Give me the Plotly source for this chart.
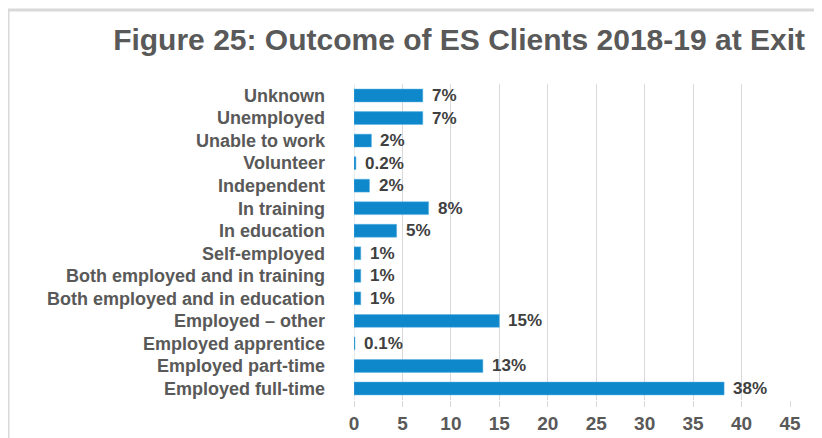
import plotly.graph_objects as go

# categories listed bottom to top (plotly draws the first category at the bottom)
outcomes = ["Employed full-time", "Employed part-time", "Employed apprentice",
            "Employed \u2013 other", "Both employed and in education",
            "Both employed and in training", "Self-employed", "In education",
            "In training", "Independent", "Volunteer", "Unable to work",
            "Unemployed", "Unknown"]
percent = [38.2, 13.3, 0.1, 15.0, 0.7, 0.7, 0.7, 4.4, 7.7, 1.6, 0.2, 1.8, 7.1, 7.1]
labels = ["38%", "13%", "0.1%", "15%", "1%", "1%", "1%", "5%", "8%", "2%",
          "0.2%", "2%", "7%", "7%"]
x_ticks = [0, 5, 10, 15, 20, 25, 30, 35, 40, 45]

grey = "#595959"
font_name = "Liberation Sans, Arial"

fig = go.Figure()
fig.add_trace(go.Bar(x=percent, y=outcomes, orientation="h",
                     marker=dict(color="#0F88CB", line=dict(color="#5BB2E3", width=0.5)),
                     hoverinfo="x+y"))

# value labels to the right of each bar
for v, o, t in zip(percent, outcomes, labels):
    fig.add_annotation(x=v, y=o, text="<b>" + t + "</b>", showarrow=False,
                       xanchor="left", xshift=7,
                       font=dict(family=font_name, size=17, color="#404040"))

# light grey frame round the chart + the zero line
fig.add_shape(type="rect", xref="paper", yref="paper",
              x0=-0.7936, x1=1.2, y0=-0.3, y1=1.234,
              line=dict(color="#D9D9D9", width=3), layer="below")
fig.add_shape(type="line", xref="x", yref="paper", x0=0, x1=0, y0=0, y1=1,
              line=dict(color="#D9D9D9", width=1), layer="below")

# the page body has an 8px margin, so the margins are shifted by 8px
fig.update_layout(
    width=822, height=438,
    margin=dict(l=346, r=40, t=76, b=46),
    paper_bgcolor="white", plot_bgcolor="white",
    bargap=0.43,
    showlegend=False,
    title=dict(text="<b>Figure 25: Outcome of ES Clients 2018-19 at Exit</b>",
               x=0.9696, xanchor="right", y=0.927, yanchor="middle",
               font=dict(family=font_name, size=30, color=grey)),
    font=dict(family=font_name, color=grey),
)
fig.update_xaxes(range=[0, 45], tickvals=x_ticks,
                 ticktext=["<b>" + str(t) + "</b>" for t in x_ticks],
                 showgrid=True, gridcolor="#D9D9D9", gridwidth=1, zeroline=False,
                 showline=False, ticks="outside", ticklen=6, tickcolor="#D9D9D9",
                 tickfont=dict(size=19, color=grey, family=font_name))
fig.update_yaxes(categoryorder="array", categoryarray=outcomes,
                 tickvals=outcomes, ticktext=["<b>" + o + "</b>" for o in outcomes],
                 showgrid=False, showline=False, ticks="", ticklabelstandoff=28,
                 tickfont=dict(size=18, color=grey, family=font_name))

fig.write_html("out.html")
